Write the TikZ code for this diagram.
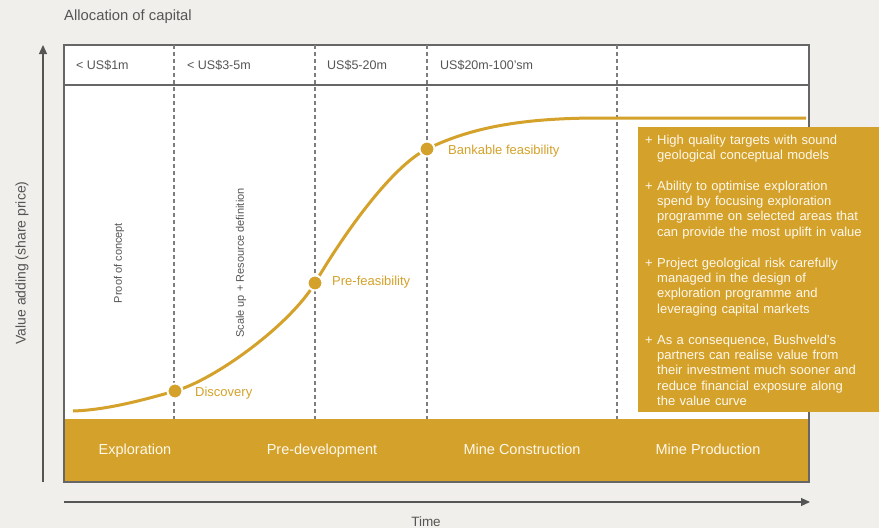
\documentclass[tikz,border=0pt]{standalone}
\usepackage{fontspec}
\setmainfont{Liberation Sans}
\usetikzlibrary{arrows.meta}
\definecolor{paper}{HTML}{F1EFEB}
\definecolor{gold}{HTML}{D4A22A}
\definecolor{ink}{HTML}{555555}
\definecolor{frame}{HTML}{666666}
\definecolor{pale}{HTML}{FFF8EC}
\tikzset{
  frameline/.style={draw=frame, line width=1.5pt},
  stagesep/.style={draw=frame!85, line width=1.3pt, dash pattern=on 4pt off 3pt},
  axisline/.style={draw=ink, line width=1.2pt, -{Triangle[length=9pt,width=8pt]}},
  costtxt/.style={anchor=west, inner sep=0pt, text=ink, font=\fontsize{12.5}{15}\selectfont},
  phasetxt/.style={anchor=base, inner sep=0pt, text=pale, font=\fontsize{14.5}{17}\selectfont},
  sidetxt/.style={inner sep=0pt, text=ink, rotate=90, font=\fontsize{11}{13}\selectfont},
  milestone/.style={circle, fill=gold, draw=white, line width=2pt, minimum size=15pt, inner sep=0pt},
  miletxt/.style={anchor=west, inner sep=0pt, text=gold, font=\fontsize{13}{15}\selectfont},
  pointtxt/.style={anchor=base west, inner sep=0pt, text=pale, text width=215pt, align=left,
    font=\fontsize{13}{15.2}\selectfont},
  plustxt/.style={anchor=base west, inner sep=0pt, text=pale, font=\fontsize{13}{15.2}\selectfont},
}
\begin{document}
\begin{tikzpicture}[x=1pt,y=-1pt]
  % canvas
  \fill[paper] (0,0) rectangle (879,528);
  \useasboundingbox (0,0) rectangle (879,528);

  % title
  \node[anchor=west, inner sep=0pt, text=ink, font=\fontsize{14.8}{17}\selectfont] (title) at (64,17) {Allocation of capital};

  % chart frame, header row and phase band
  \fill[white] (64,45) rectangle (809,419);
  \fill[gold] (64,419) rectangle (809,482);
  \draw[frameline] (64,45) rectangle (809,482);
  \draw[frameline] (64,85) -- (809,85);

  % stage separators
  \foreach \x/\n in {174/s1,315/s2,427/s3,617/s4} {
    \coordinate (\n t) at (\x,45);
    \coordinate (\n b) at (\x,419);
    \draw[stagesep] (\n t) -- (\n b);
  }

  % capital per stage
  \node[costtxt] (c1) at (76,65) {< US\$1m};
  \node[costtxt] (c2) at (187,65) {< US\$3-5m};
  \node[costtxt] (c3) at (327,65) {US\$5-20m};
  \node[costtxt] (c4) at (440,65) {US\$20m-100’sm};

  % stage descriptions
  \node[sidetxt] (poc) at (119,263) {Proof of concept};
  \node[sidetxt] (sur) at (241,263) {Scale up + Resource definition};

  % value curve
  \draw[gold, line width=3pt]
    (73,411) .. controls (105,410) and (140,401) .. (175,391)
    .. controls (215,379.6) and (290,325) .. (315,283)
    .. controls (345,232) and (392,166.5) .. (427,149)
    .. controls (470,128) and (520,118) .. (600,118)
    -- (806,118);

  % milestones on the curve
  \node[milestone] (disc) at (175,391) {};
  \node[milestone] (pref) at (315,283) {};
  \node[milestone] (bank) at (427,149) {};
  \node[miletxt] (disct) at (195,393) {Discovery};
  \node[miletxt] (preft) at (332,282) {Pre-feasibility};
  \node[miletxt] (bankt) at (448,151) {Bankable feasibility};

  % benefits panel
  \fill[gold] (638,127) rectangle (879,411.5);
  \node[plustxt] (p1) at (645,144.5) {+};
  \node[pointtxt] (b1) at (657,144.5) {High quality targets with sound\\geological conceptual models};
  \node[plustxt] (p2) at (645,190.5) {+};
  \node[pointtxt] (b2) at (657,190.5) {Ability to optimise exploration\\spend by focusing exploration\\programme on selected areas that\\can provide the most uplift in value};
  \node[plustxt] (p3) at (645,267.5) {+};
  \node[pointtxt] (b3) at (657,267.5) {Project geological risk carefully\\managed in the design of\\exploration programme and\\leveraging capital markets};
  \node[plustxt] (p4) at (645,344.5) {+};
  \node[pointtxt] (b4) at (657,344.5) {As a consequence, Bushveld’s\\partners can realise value from\\their investment much sooner and\\reduce financial exposure along\\the value curve};

  % phases
  \node[phasetxt] (ph1) at (135,454) {Exploration};
  \node[phasetxt] (ph2) at (322,454) {Pre-development};
  \node[phasetxt] (ph3) at (522,454) {Mine Construction};
  \node[phasetxt] (ph4) at (708,454) {Mine Production};

  % axes
  \coordinate (yb) at (43,482);
  \coordinate (yt) at (43,45);
  \coordinate (xl) at (64,502);
  \coordinate (xr) at (810,502);
  \draw[axisline] (yb) -- (yt);
  \draw[axisline] (xl) -- (xr);
  \node[inner sep=0pt, text=ink, rotate=90, font=\fontsize{14}{16}\selectfont] (ylab) at (22,263) {Value adding (share price)};
  \node[inner sep=0pt, text=ink, font=\fontsize{13.5}{16}\selectfont] (xlab) at (426,522) {Time};
\end{tikzpicture}
\end{document}
